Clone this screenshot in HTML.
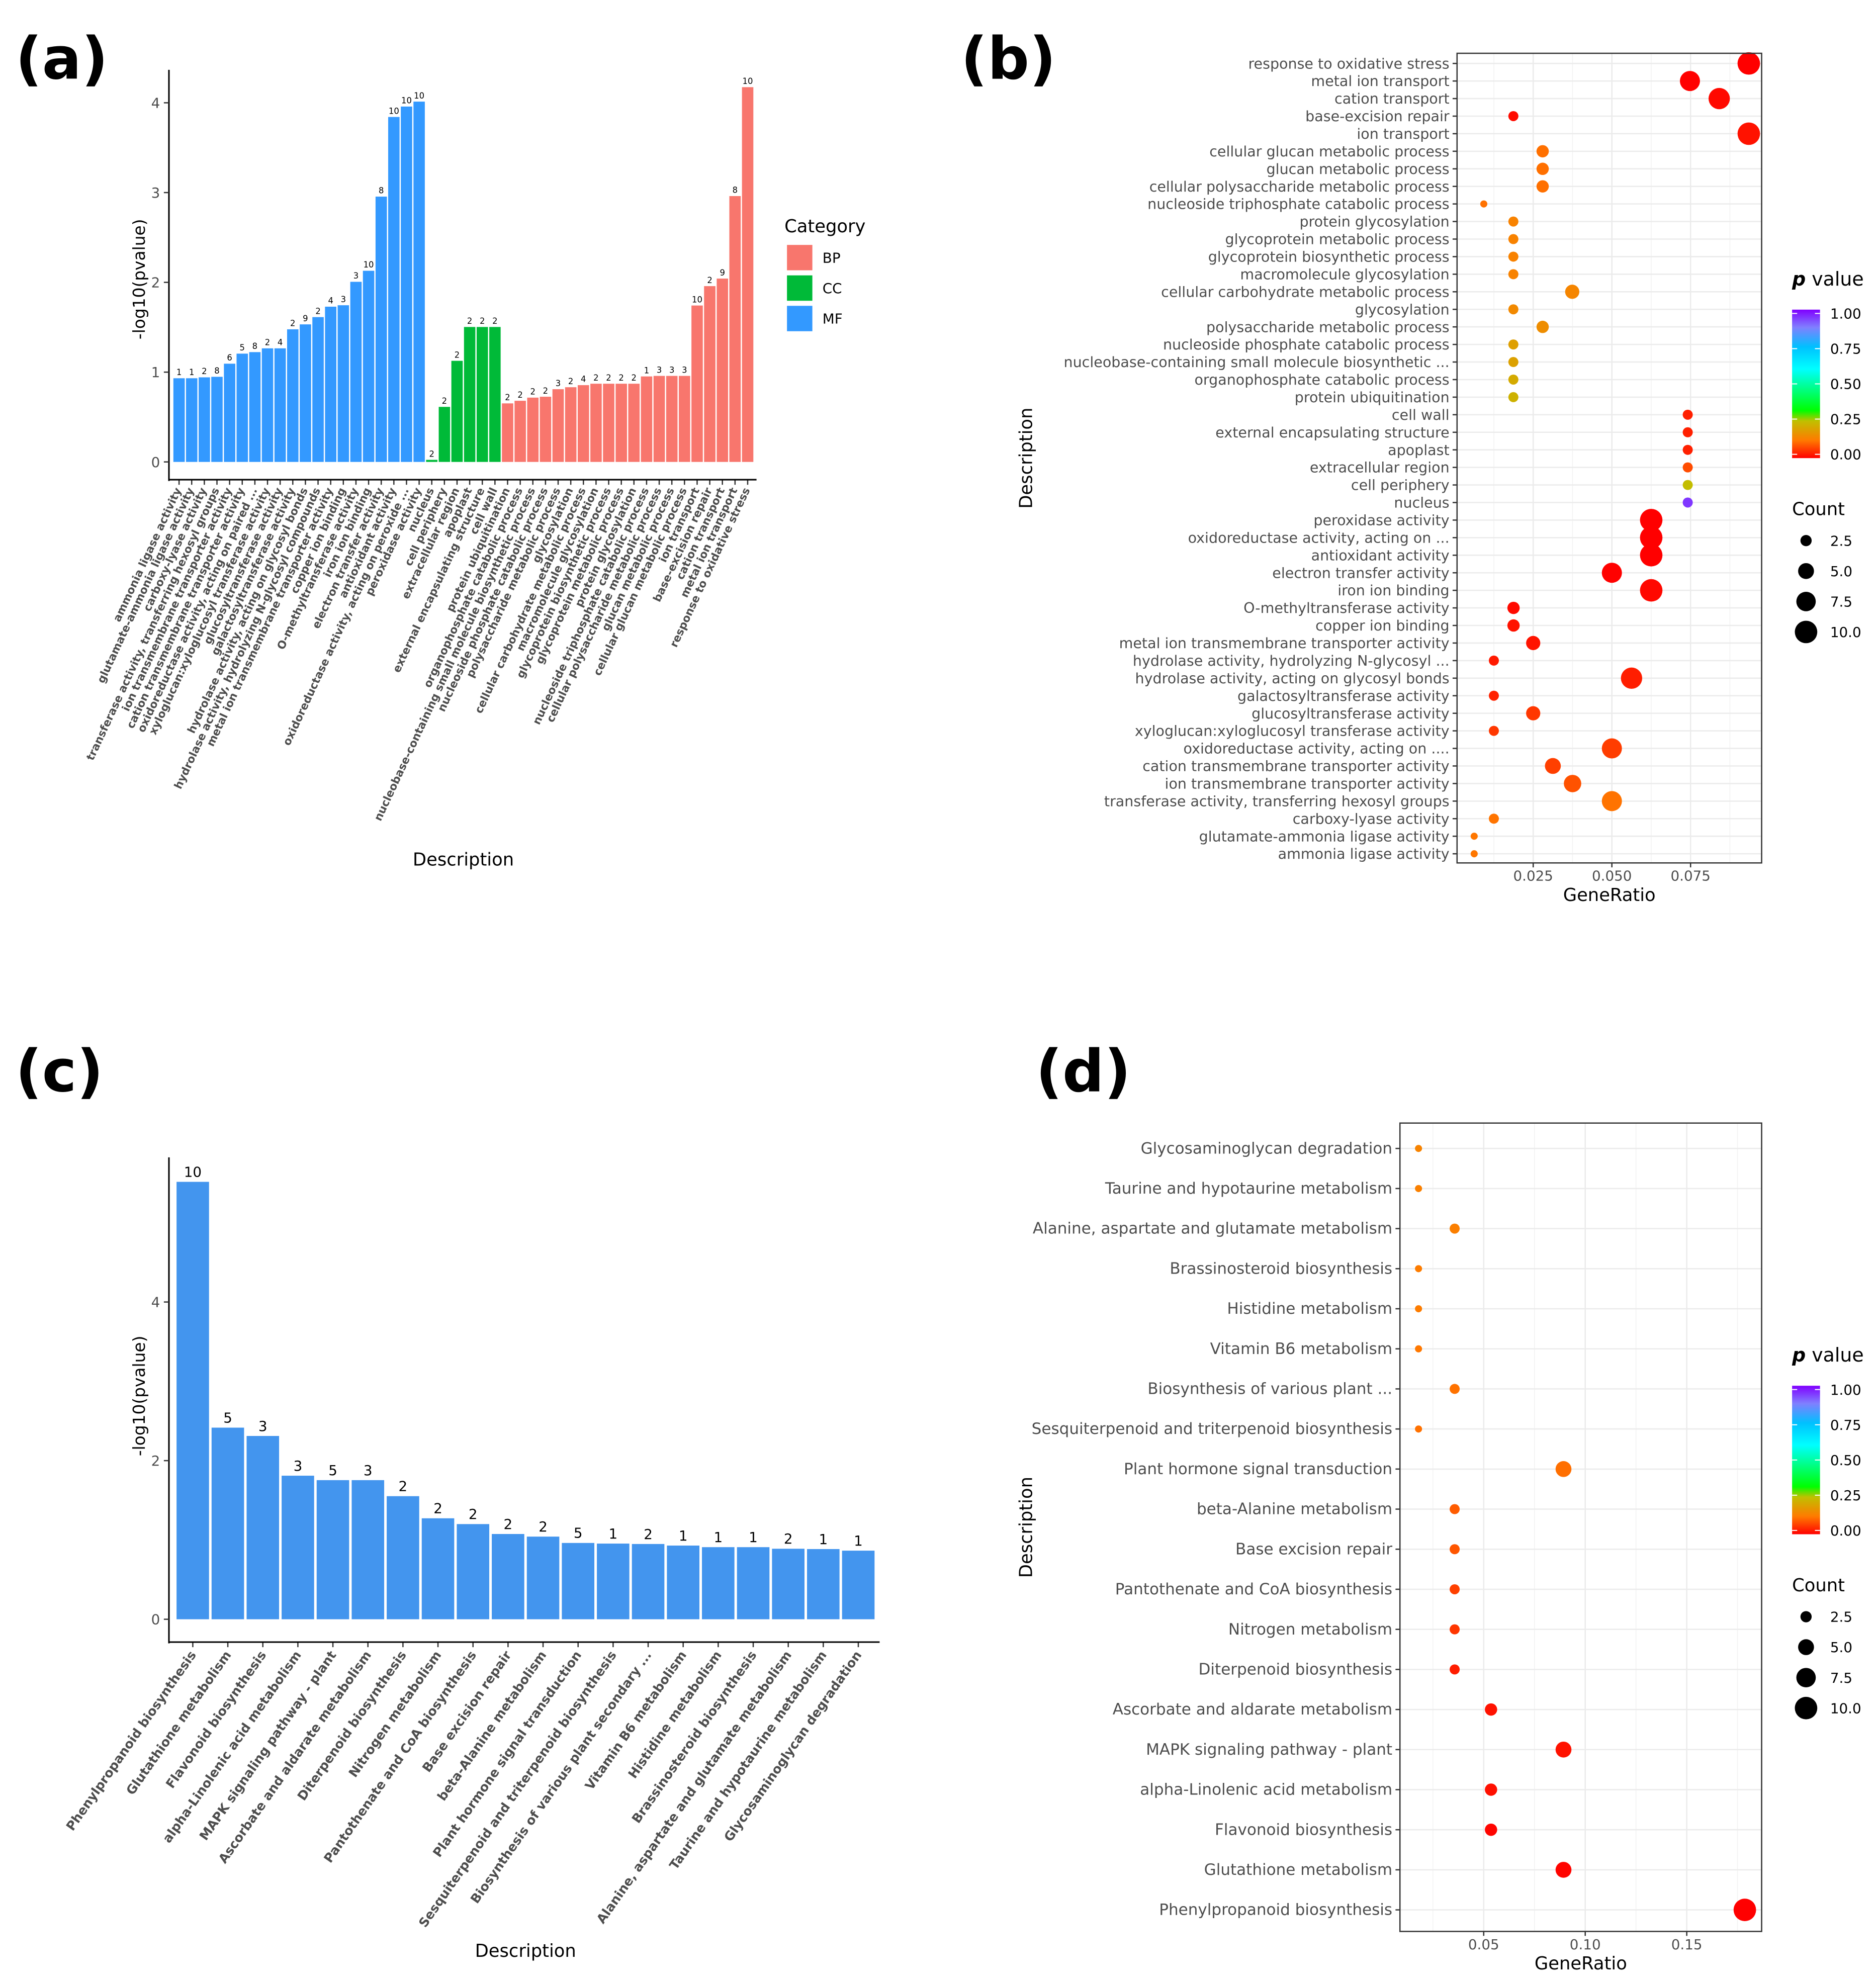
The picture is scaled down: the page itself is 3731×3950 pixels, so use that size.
<!DOCTYPE html>
<html><head><meta charset="utf-8">
<style>
html,body{margin:0;padding:0;background:#fff;}
svg{display:block;font-family:"DejaVu Sans","Liberation Sans",sans-serif;}
</style></head>
<body>
<svg id="fig" width="3731" height="3950" viewBox="0 0 1478 1565" xmlns="http://www.w3.org/2000/svg">
<rect x="0" y="0" width="1478" height="1565" fill="#fff"/>
<text x="12" y="62" font-size="46" font-weight="bold">(a)</text>
<text x="757" y="62" font-size="46" font-weight="bold">(b)</text>
<text x="12" y="860" font-size="46" font-weight="bold">(c)</text>
<text x="816" y="860" font-size="46" font-weight="bold">(d)</text>
<defs>
<linearGradient id="pgrad" x1="0" y1="1" x2="0" y2="0">
<stop offset="0" stop-color="#ff0000"/><stop offset="0.12" stop-color="#ff7a00"/>
<stop offset="0.25" stop-color="#c0c000"/><stop offset="0.32" stop-color="#00ff00"/>
<stop offset="0.6" stop-color="#00ffff"/><stop offset="0.75" stop-color="#00c0ff"/>
<stop offset="0.88" stop-color="#8080ff"/><stop offset="1" stop-color="#8000ff"/>
</linearGradient>
</defs>
</svg>
<script>
// ---------- Panel A data ----------
const aNames = ["ammonia ligase activity","glutamate-ammonia ligase activity","carboxy-lyase activity","transferase activity, transferring hexosyl groups","ion transmembrane transporter activity","cation transmembrane transporter activity","oxidoreductase activity, acting on paired ...","xyloglucan:xyloglucosyl transferase activity","glucosyltransferase activity","galactosyltransferase activity","hydrolase activity, acting on glycosyl bonds","hydrolase activity, hydrolyzing N-glycosyl compounds","metal ion transmembrane transporter activity","copper ion binding","O-methyltransferase activity","iron ion binding","electron transfer activity","antioxidant activity","oxidoreductase activity, acting on peroxide ...","peroxidase activity",
"nucleus","cell periphery","extracellular region","apoplast","external encapsulating structure","cell wall",
"protein ubiquitination","organophosphate catabolic process","nucleobase-containing small molecule biosynthetic process","nucleoside phosphate catabolic process","polysaccharide metabolic process","glycosylation","cellular carbohydrate metabolic process","macromolecule glycosylation","glycoprotein biosynthetic process","glycoprotein metabolic process","protein glycosylation","nucleoside triphosphate catabolic process","cellular polysaccharide metabolic process","glucan metabolic process","cellular glucan metabolic process","ion transport","base-excision repair","cation transport","metal ion transport","response to oxidative stress"];
const aValues = [0.932,0.932,0.942,0.948,1.094,1.206,1.223,1.265,1.265,1.477,1.532,1.613,1.729,1.745,2.006,2.129,2.955,3.842,3.958,4.013,
0.023,0.613,1.126,1.503,1.503,1.503,
0.652,0.681,0.716,0.726,0.810,0.832,0.855,0.871,0.871,0.871,0.871,0.952,0.958,0.958,0.958,1.742,1.958,2.042,2.961,4.174];
const aCounts = [1,1,2,8,6,5,8,2,4,2,9,2,4,3,3,10,8,10,10,10, 2,2,2,2,2,2, 2,2,2,2,3,2,4,2,2,2,2,1,3,3,3,10,2,9,8,10];
const aCats = ["MF","MF","MF","MF","MF","MF","MF","MF","MF","MF","MF","MF","MF","MF","MF","MF","MF","MF","MF","MF","CC","CC","CC","CC","CC","CC","BP","BP","BP","BP","BP","BP","BP","BP","BP","BP","BP","BP","BP","BP","BP","BP","BP","BP","BP","BP"];
const aTicks = [0,1,2,3,4];
// ---------- Panel B data ----------
const bNames = ["response to oxidative stress","metal ion transport","cation transport","base-excision repair","ion transport","cellular glucan metabolic process","glucan metabolic process","cellular polysaccharide metabolic process","nucleoside triphosphate catabolic process","protein glycosylation","glycoprotein metabolic process","glycoprotein biosynthetic process","macromolecule glycosylation","cellular carbohydrate metabolic process","glycosylation","polysaccharide metabolic process","nucleoside phosphate catabolic process","nucleobase-containing small molecule biosynthetic ...","organophosphate catabolic process","protein ubiquitination","cell wall","external encapsulating structure","apoplast","extracellular region","cell periphery","nucleus","peroxidase activity","oxidoreductase activity, acting on ...","antioxidant activity","electron transfer activity","iron ion binding","O-methyltransferase activity","copper ion binding","metal ion transmembrane transporter activity","hydrolase activity, hydrolyzing N-glycosyl ...","hydrolase activity, acting on glycosyl bonds","galactosyltransferase activity","glucosyltransferase activity","xyloglucan:xyloglucosyl transferase activity","oxidoreductase activity, acting on ....","cation transmembrane transporter activity","ion transmembrane transporter activity","transferase activity, transferring hexosyl groups","carboxy-lyase activity","glutamate-ammonia ligase activity","ammonia ligase activity"];
const bCounts = [10,8,9,2,10,3,3,3,1,2,2,2,2,4,2,3,2,2,2,2, 2,2,2,2,2,2, 10,10,10,8,10,3,3,4,2,9,2,4,2,8,5,6,8,2,1,1];
const bRatio = [0.0935,0.0748,0.0841,0.0187,0.0935,0.0280,0.0280,0.0280,0.0093,0.0187,0.0187,0.0187,0.0187,0.0374,0.0187,0.0280,0.0187,0.0187,0.0187,0.0187,
0.0741,0.0741,0.0741,0.0741,0.0741,0.0741,
0.0625,0.0625,0.0625,0.05,0.0625,0.01875,0.01875,0.025,0.0125,0.05625,0.0125,0.025,0.0125,0.05,0.03125,0.0375,0.05,0.0125,0.00625,0.00625];
const bLogP = [4.174,2.961,2.042,1.958,1.742,0.958,0.958,0.958,0.952,0.871,0.871,0.871,0.871,0.855,0.832,0.810,0.726,0.716,0.681,0.652,
1.503,1.503,1.503,1.126,0.613,0.023,
4.013,3.958,3.842,2.955,2.129,2.006,1.745,1.729,1.613,1.532,1.477,1.265,1.265,1.223,1.206,1.094,0.948,0.942,0.932,0.932];
const bXTicks = [0.025,0.05,0.075];
// ---------- Panel C data ----------
const cNames = ["Phenylpropanoid biosynthesis","Glutathione metabolism","Flavonoid biosynthesis","alpha-Linolenic acid metabolism","MAPK signaling pathway - plant","Ascorbate and aldarate metabolism","Diterpenoid biosynthesis","Nitrogen metabolism","Pantothenate and CoA biosynthesis","Base excision repair","beta-Alanine metabolism","Plant hormone signal transduction","Sesquiterpenoid and triterpenoid biosynthesis","Biosynthesis of various plant secondary ...","Vitamin B6 metabolism","Histidine metabolism","Brassinosteroid biosynthesis","Alanine, aspartate and glutamate metabolism","Taurine and hypotaurine metabolism","Glycosaminoglycan degradation"];
const cValues = [5.515,2.416,2.311,1.810,1.754,1.754,1.552,1.273,1.200,1.075,1.042,0.962,0.954,0.949,0.929,0.909,0.909,0.889,0.885,0.865];
const cCounts = [10,5,3,3,5,3,2,2,2,2,2,5,1,2,1,1,1,2,1,1];
const cTicks = [0,2,4];
// ---------- Panel D data ----------
const dNames = ["Glycosaminoglycan degradation","Taurine and hypotaurine metabolism","Alanine, aspartate and glutamate metabolism","Brassinosteroid biosynthesis","Histidine metabolism","Vitamin B6 metabolism","Biosynthesis of various plant ...","Sesquiterpenoid and triterpenoid biosynthesis","Plant hormone signal transduction","beta-Alanine metabolism","Base excision repair","Pantothenate and CoA biosynthesis","Nitrogen metabolism","Diterpenoid biosynthesis","Ascorbate and aldarate metabolism","MAPK signaling pathway - plant","alpha-Linolenic acid metabolism","Flavonoid biosynthesis","Glutathione metabolism","Phenylpropanoid biosynthesis"];
const dCounts = [1,1,2,1,1,1,2,1,5,2,2,2,2,2,3,5,3,3,5,10];
const dRatio = [0.0179,0.0179,0.0357,0.0179,0.0179,0.0179,0.0357,0.0179,0.0893,0.0357,0.0357,0.0357,0.0357,0.0357,0.0536,0.0893,0.0536,0.0536,0.0893,0.1786];
const dLogP = [0.865,0.885,0.889,0.909,0.909,0.929,0.949,0.954,0.962,1.042,1.075,1.200,1.273,1.552,1.754,1.754,1.810,2.311,2.416,5.515];
const dXTicks = [0.05,0.10,0.15];
const legendP = [0,0.25,0.5,0.75,1];
const legendCounts = [2.5,5,7.5,10];

const svg = document.getElementById('fig');
const NS = 'http://www.w3.org/2000/svg';
function mk(tag, attrs, text) {
  const e = document.createElementNS(NS, tag);
  for (const k in attrs) e.setAttribute(k, attrs[k]);
  if (text !== undefined) e.textContent = text;
  svg.appendChild(e);
  return e;
}
const catColor = {BP:'#f8766d', CC:'#00ba38', MF:'#3399ff'};
function pColor(p) {
  const stops = [[0,[255,0,0]],[0.12,[255,122,0]],[0.25,[192,192,0]],[0.32,[0,255,0]],[0.6,[0,255,255]],[0.75,[0,192,255]],[0.88,[128,128,255]],[1,[128,0,255]]];
  for (let i=1;i<stops.length;i++) {
    if (p <= stops[i][0]) {
      const t = (p-stops[i-1][0])/(stops[i][0]-stops[i-1][0]);
      const a=stops[i-1][1], b=stops[i][1];
      return 'rgb('+a.map((v,j)=>Math.round(v+(b[j]-v)*t)).join(',')+')';
    }
  }
  return 'rgb(128,0,255)';
}
function sizeR(c){ return 2.8*Math.sqrt(c); }

// ===== Panel A =====
(function(){
  const x0=136, x1=594, yZero=364, perUnit=70.75;
  const step=(x1-x0)/aValues.length;
  const yA = v => yZero - v*perUnit;
  let e;
  aValues.forEach((v,i)=>{
    const x=x0+i*step;
    e=mk('rect',{x:x+0.5,y:yA(v),width:step-1,height:v*perUnit,fill:catColor[aCats[i]]});
    
    
    e=mk('text',{x:x+step/2,y:yA(v)-2.5,'font-size':6.5,'text-anchor':'middle',fill:'#000'},aCounts[i]);
    
    
    e=mk('line',{x1:x+step/2,x2:x+step/2,y1:378,y2:382,stroke:'#333','stroke-width':1});
    
    
    e=mk('text',{x:x+step/2+2,y:386,'font-size':8.6,'font-weight':'bold',fill:'#4d4d4d','text-anchor':'end',transform:'rotate(-65 '+(x+step/2+2)+' 386)'},aNames[i]);
    
    
  });
  e=mk('line',{x1:133,x2:133,y1:55,y2:379,stroke:'#000','stroke-width':1.2});
  
  
  e=mk('line',{x1:132.5,x2:596,y1:378,y2:378,stroke:'#000','stroke-width':1.2});
  
  
  aTicks.forEach(t=>{
    e=mk('line',{x1:129,x2:133,y1:yA(t),y2:yA(t),stroke:'#333'});
    
    
    e=mk('text',{x:126,y:yA(t)+4,'font-size':11,fill:'#4d4d4d','text-anchor':'end'},t);
    
    
  });
  e=mk('text',{x:114,y:220,'font-size':13,'text-anchor':'middle',transform:'rotate(-90 114 220)'},'-log10(pvalue)');
  
  
  e=mk('text',{x:365,y:682,'font-size':14,'text-anchor':'middle'},'Description');
  
  
  e=mk('text',{x:618,y:183,'font-size':14},'Category');
  
  
  ['BP','CC','MF'].forEach((c,i)=>{
    e=mk('rect',{x:620,y:193+i*24,width:20,height:20,fill:catColor[c]});
    
    
    e=mk('text',{x:648,y:207+i*24,'font-size':11},c);
    
    
  });
})();

// ===== Dot plot helper =====
function dotPanel(opt){
  const {L,R,T,B,names,counts,ratio,logp,xticks,xz,xs,rowY0,rowStep,tag,tickFmt,lblSize,legendTop} = opt;
  const xf = r => xz + r*xs;
  let e;
  e=mk('rect',{x:L,y:T,width:R-L,height:B-T,fill:'#fff'});
  
  
  for (let i=0;i<xticks.length+1;i++){
    const step = xticks[1]-xticks[0];
    const m = xticks[0]-step/2 + i*step;
    const xx=xf(m);
    if (xx>L && xx<R){
      e=mk('line',{x1:xx,x2:xx,y1:T,y2:B,stroke:'#f2f2f2','stroke-width':0.6});
      
      
    }
  }
  xticks.forEach(t=>{
    e=mk('line',{x1:xf(t),x2:xf(t),y1:T,y2:B,stroke:'#ebebeb','stroke-width':1});
    
    
  });
  names.forEach((n,i)=>{
    const y=rowY0+i*rowStep;
    e=mk('line',{x1:L,x2:R,y1:y,y2:y,stroke:'#ebebeb','stroke-width':1});
    
    
  });
  names.forEach((n,i)=>{
    const y=rowY0+i*rowStep;
    e=mk('circle',{cx:xf(ratio[i]),cy:y,r:sizeR(counts[i]),fill:pColor(Math.pow(10,-logp[i]))});
    
    
    e=mk('line',{x1:L-3.5,x2:L,y1:y,y2:y,stroke:'#333'});
    
    
    e=mk('text',{x:L-6,y:y+4,'font-size':lblSize,fill:'#4d4d4d','text-anchor':'end'},n);
    
    
  });
  e=mk('rect',{x:L,y:T,width:R-L,height:B-T,fill:'none',stroke:'#333','stroke-width':1});
  
  
  xticks.forEach(t=>{
    e=mk('line',{x1:xf(t),x2:xf(t),y1:B,y2:B+3.5,stroke:'#333'});
    
    
    e=mk('text',{x:xf(t),y:B+14,'font-size':11,fill:'#4d4d4d','text-anchor':'middle'},tickFmt(t));
    
    
  });
  e=mk('text',{x:(L+R)/2,y:B+30,'font-size':14,'text-anchor':'middle'},'GeneRatio');
  
  
  const cy=(T+B)/2;
  e=mk('text',{x:813,y:cy,'font-size':14,'text-anchor':'middle',transform:'rotate(-90 813 '+cy+')'},'Description');
  
  
  const lt=legendTop;
  e=mk('text',{x:1412,y:lt,'font-size':15});
  
  
  const ts1=document.createElementNS(NS,'tspan'); ts1.setAttribute('font-style','italic'); ts1.setAttribute('font-weight','bold'); ts1.textContent='p'; e.appendChild(ts1);
  const ts2=document.createElementNS(NS,'tspan'); ts2.textContent=' value'; e.appendChild(ts2);
  const gT=lt+19, gH=117;
  e=mk('rect',{x:1412,y:gT,width:22,height:gH,fill:'url(#pgrad)'});
  
  
  legendP.forEach(p=>{
    const yy=gT+gH-3-p*(gH-6);
    e=mk('line',{x1:1412,x2:1416,y1:yy,y2:yy,stroke:'#fff','stroke-width':0.8});
    
    
    e=mk('line',{x1:1430,x2:1434,y1:yy,y2:yy,stroke:'#fff','stroke-width':0.8});
    
    
    e=mk('text',{x:1442,y:yy+4,'font-size':11},p.toFixed(2));
    
    
  });
  e=mk('text',{x:1412,y:lt+181,'font-size':14},'Count');
  
  
  legendCounts.forEach((c,i)=>{
    const yy=lt+201+i*24;
    e=mk('circle',{cx:1423,cy:yy,r:sizeR(c),fill:'#000'});
    
    
    e=mk('text',{x:1442,y:yy+4,'font-size':11},c.toFixed(1));
    
    
  });
}
dotPanel({L:1148,R:1388,T:42,B:680,names:bNames,counts:bCounts,ratio:bRatio,logp:bLogP,xticks:bXTicks,xz:1146,xs:2480,rowY0:50,rowStep:13.84,tag:'b',tickFmt:t=>t.toFixed(3),lblSize:11.3,legendTop:225});
dotPanel({L:1103,R:1388,T:885,B:1522,names:dNames,counts:dCounts,ratio:dRatio,logp:dLogP,xticks:dXTicks,xz:1089,xs:1600,rowY0:905,rowStep:31.58,tag:'d',tickFmt:t=>t.toFixed(2),lblSize:12.3,legendTop:1073});

// ===== Panel C =====
(function(){
  const x0=138, x1=690, yZero=1276, perUnit=62.5;
  const step=(x1-x0)/cValues.length;
  const yC = v => yZero - v*perUnit;
  let e;
  cValues.forEach((v,i)=>{
    const x=x0+i*step;
    e=mk('rect',{x:x+1,y:yC(v),width:step-2,height:v*perUnit,fill:'#4395ee'});
    
    
    e=mk('text',{x:x+step/2,y:yC(v)-4,'font-size':11,'text-anchor':'middle'},cCounts[i]);
    
    
    e=mk('line',{x1:x+step/2,x2:x+step/2,y1:1294,y2:1298,stroke:'#333'});
    
    
    e=mk('text',{x:x+step/2+3,y:1304,'font-size':10,'font-weight':'bold',fill:'#4d4d4d','text-anchor':'end',transform:'rotate(-55 '+(x+step/2+3)+' 1304)'},cNames[i]);
    
    
  });
  e=mk('line',{x1:133,x2:133,y1:912,y2:1295,stroke:'#000','stroke-width':1.2});
  
  
  e=mk('line',{x1:132.5,x2:693,y1:1294,y2:1294,stroke:'#000','stroke-width':1.2});
  
  
  cTicks.forEach(t=>{
    e=mk('line',{x1:129,x2:133,y1:yC(t),y2:yC(t),stroke:'#333'});
    
    
    e=mk('text',{x:126,y:yC(t)+4,'font-size':11,fill:'#4d4d4d','text-anchor':'end'},t);
    
    
  });
  e=mk('text',{x:114,y:1100,'font-size':13,'text-anchor':'middle',transform:'rotate(-90 114 1100)'},'-log10(pvalue)');
  
  
  e=mk('text',{x:414,y:1542,'font-size':14,'text-anchor':'middle'},'Description');
  
  
})();
</script>
</body></html>
